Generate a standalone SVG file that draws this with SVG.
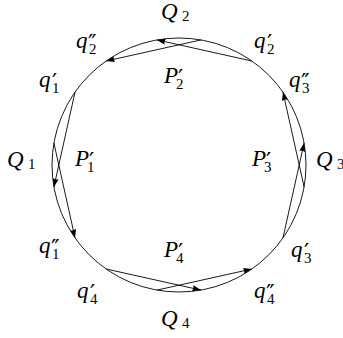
<svg xmlns="http://www.w3.org/2000/svg" width="343" height="338" viewBox="0 0 343 338">
<style>
.lbl{font-family:"Liberation Serif","DejaVu Serif",serif;font-style:italic;font-size:23px;fill:#000}
.sub{font-size:15px;font-style:normal}
.pr{font-family:"DejaVu Sans",sans-serif;font-size:23px;font-style:normal}
.ch{stroke:#000;stroke-width:0.9;fill:none;marker-end:url(#ah)}
</style>
<defs>
<marker id="ah" markerUnits="userSpaceOnUse" markerWidth="10" markerHeight="8" refX="8.5" refY="3" orient="auto">
<path d="M0,0 L8.5,3 L0,6 Q1.5,3 0,0 Z" fill="#000"/>
</marker>
</defs>
<circle cx="179" cy="165" r="127" fill="none" stroke="#000" stroke-width="0.9"/>
<g id="connectors">
<line class="ch" x1="251.8" y1="61.0" x2="157.0" y2="39.9"/>
<line class="ch" x1="201.0" y1="39.9" x2="106.2" y2="61.0"/>
<line class="ch" x1="283.0" y1="237.8" x2="304.1" y2="143.0"/>
<line class="ch" x1="304.1" y1="187.0" x2="283.0" y2="92.2"/>
<line class="ch" x1="75.0" y1="92.2" x2="53.9" y2="187.0"/>
<line class="ch" x1="53.9" y1="143.0" x2="75.0" y2="237.8"/>
<line class="ch" x1="106.2" y1="269.0" x2="201.0" y2="290.1"/>
<line class="ch" x1="157.0" y1="290.1" x2="251.8" y2="269.0"/>
</g>
<g id="Q2"><text class="lbl" x="161" y="19">Q<tspan class="sub" x="182" y="21">2</tspan></text></g>
<g id="q2pp"><text class="lbl" x="76" y="48">q<tspan class="pr" x="88" y="51">″</tspan><tspan class="sub" x="89" y="54">2</tspan></text></g>
<g id="q2p"><text class="lbl" x="254" y="48">q<tspan class="pr" x="267" y="51">′</tspan><tspan class="sub" x="267" y="54">2</tspan></text></g>
<g id="P2p"><text class="lbl" x="164" y="83">P<tspan class="pr" x="178" y="86">′</tspan><tspan class="sub" x="176" y="89">2</tspan></text></g>
<g id="q1p"><text class="lbl" x="39" y="87">q<tspan class="pr" x="52" y="90">′</tspan><tspan class="sub" x="52" y="93">1</tspan></text></g>
<g id="q3pp"><text class="lbl" x="289" y="87">q<tspan class="pr" x="301" y="90">″</tspan><tspan class="sub" x="302" y="93">3</tspan></text></g>
<g id="Q1"><text class="lbl" x="7" y="167">Q<tspan class="sub" x="28" y="169">1</tspan></text></g>
<g id="P1p"><text class="lbl" x="75" y="166">P<tspan class="pr" x="89" y="169">′</tspan><tspan class="sub" x="87" y="172">1</tspan></text></g>
<g id="P3p"><text class="lbl" x="252" y="166">P<tspan class="pr" x="266" y="169">′</tspan><tspan class="sub" x="264" y="172">3</tspan></text></g>
<g id="Q3"><text class="lbl" x="316" y="167">Q<tspan class="sub" x="337" y="169">3</tspan></text></g>
<g id="q1pp"><text class="lbl" x="39" y="253">q<tspan class="pr" x="51" y="256">″</tspan><tspan class="sub" x="52" y="259">1</tspan></text></g>
<g id="P4p"><text class="lbl" x="164" y="257">P<tspan class="pr" x="178" y="260">′</tspan><tspan class="sub" x="176" y="263">4</tspan></text></g>
<g id="q3p"><text class="lbl" x="291" y="257">q<tspan class="pr" x="304" y="260">′</tspan><tspan class="sub" x="304" y="263">3</tspan></text></g>
<g id="q4p"><text class="lbl" x="77" y="298">q<tspan class="pr" x="90" y="301">′</tspan><tspan class="sub" x="90" y="304">4</tspan></text></g>
<g id="q4pp"><text class="lbl" x="254" y="298">q<tspan class="pr" x="266" y="301">″</tspan><tspan class="sub" x="267" y="304">4</tspan></text></g>
<g id="Q4"><text class="lbl" x="161" y="326">Q<tspan class="sub" x="182" y="328">4</tspan></text></g>
</svg>
